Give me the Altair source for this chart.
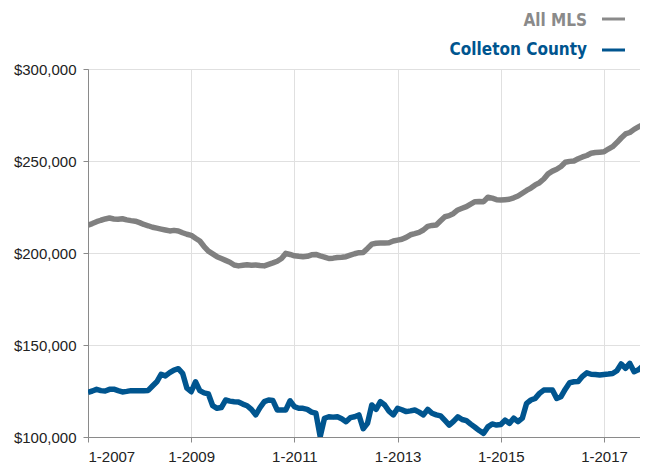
import altair as alt
import pandas as pd

# monthly, Jan 2007 .. Dec 2017 (values in $1,000)
all_mls = [
    215.2, 216, 217, 217.8, 218.5, 219, 218.5, 218.3, 218.6, 218, 217.6, 217.3,
    216.5, 215.5, 214.8, 214, 213.5, 213, 212.5, 212, 212.3, 212, 211, 210.2,
    209.6, 208, 206.5, 203.5, 201, 199.5, 198, 197, 196, 195, 193.5, 193,
    193.3, 193.6, 193.4, 193.5, 193.2, 193, 193.8, 194.6, 195.5, 197, 199.8, 199.2,
    198.5, 198.2, 198, 198.2, 199, 199.2, 198.4, 197.8, 197, 197.2, 197.6, 197.7,
    198, 198.8, 199.6, 200.2, 200.3, 202.5, 204.8, 205.3, 205.4, 205.5, 205.6, 206.5,
    207, 207.5, 208.5, 209.9, 210.5, 211.2, 212.5, 214.5, 215, 215.2, 217.5, 219.7,
    220.3, 221.5, 223.4, 224.3, 225.2, 226.6, 227.9, 228, 227.9, 230.3, 229.8, 229,
    228.8, 229, 229.2, 230, 231, 232.5, 234, 235.3, 237, 238.2, 240.2, 243,
    244.5, 245.5, 247, 249.3, 249.8, 250, 251.2, 252.2, 253, 254.2, 254.6, 254.8,
    255, 256.5, 257.8, 260, 262.5, 264.7, 265.5, 267.2, 268.5, 269.8, 270.5, 271.5,
]
colleton = [
    124.3, 125, 125.9, 125.2, 125, 125.9, 126, 125.2, 124.5, 124.8, 125.2, 125.2,
    125.2, 125.2, 125.3, 127.7, 130, 134.1, 133.2, 135, 136.4, 137.1, 134.6, 126.5,
    124.6, 130, 125.2, 124, 123.4, 117, 115.6, 116, 120.1, 119.5, 119.2, 119,
    117.9, 117, 115, 112, 116, 119.2, 120.1, 119.8, 114.7, 114.7, 114.7, 119.7,
    116.5, 115.6, 115.6, 115, 113.5, 112.9, 100.2, 110.2, 111, 110.8, 111, 109.9,
    108.3, 110.5, 111, 112, 104.5, 107.4, 117.4, 115, 119.2, 117.4, 114, 112,
    115.6, 114.8, 113.8, 114.2, 114.7, 113.5, 112, 115, 112.9, 112, 111.5, 109,
    106.5, 108.5, 111, 109.5, 108.9, 107, 105.3, 103.5, 102, 105.5, 107.1, 106.5,
    106.8, 109.2, 107.4, 110.2, 108.3, 110.2, 118.3, 120.1, 121, 123.7, 125.5, 125.5,
    125.5, 121, 121.9, 126, 129.5, 130, 130.2, 133, 134.9, 134.1, 134, 133.7,
    134, 134.2, 134.5, 136, 139.7, 137.3, 140, 135.5, 136.5, 138.5, 140.4, 141,
]
series_names = ["All MLS", "Colleton County"]
series_colors = ["#808080", "#00558f"]
tick_months = [0, 24, 48, 72, 96, 120]
y_ticks = [100000, 150000, 200000, 250000, 300000]

n = len(all_mls)
df = pd.DataFrame({
    "m": list(range(n)) * 2,
    "v": [v * 1000 for v in all_mls + colleton],
    "s": [series_names[0]] * n + [series_names[1]] * n,
})

W, H = 552, 368
x_end = W / 4.3  # visible months (the plot is cut at the page edge)

lines = alt.Chart(df).mark_line(strokeWidth=5.5, strokeJoin="round", clip=True).encode(
    x=alt.X("m:Q",
            scale=alt.Scale(domain=[0, x_end], nice=False, zero=False),
            axis=alt.Axis(values=tick_months, title=None,
                          labelExpr="'1-' + (2007 + datum.value / 12)",
                          tickSize=5, labelPadding=7)),
    y=alt.Y("v:Q",
            scale=alt.Scale(domain=[100000, 300000], nice=False, zero=False),
            axis=alt.Axis(values=y_ticks, format="$,.0f", title=None,
                          tickSize=5, labelPadding=7)),
    color=alt.Color("s:N", scale=alt.Scale(domain=series_names, range=series_colors),
                    legend=None),
    order=alt.Order("s:N"),
)

leg_font = dict(font="'Liberation Sans Narrow', 'DejaVu Sans Condensed', 'Liberation Sans'",
                fontWeight="bold", fontSize=17,
                align="right", baseline="alphabetic")
leg_df = pd.DataFrame({"s": series_names})

t1 = alt.Chart(leg_df).transform_filter(alt.datum.s == series_names[0]).mark_text(
    color="#8a8a8a", **leg_font).encode(
    x=alt.value(499), y=alt.value(-43), text="s:N")
t2 = alt.Chart(leg_df).transform_filter(alt.datum.s == series_names[1]).mark_text(
    color=series_colors[1], **leg_font).encode(
    x=alt.value(499), y=alt.value(-14), text="s:N")
r1 = alt.Chart(leg_df).transform_filter(alt.datum.s == series_names[0]).mark_rule(
    color="#8a8a8a", strokeWidth=3).encode(
    x=alt.value(514), x2=alt.value(537), y=alt.value(-50))
r2 = alt.Chart(leg_df).transform_filter(alt.datum.s == series_names[1]).mark_rule(
    color=series_colors[1], strokeWidth=3).encode(
    x=alt.value(514), x2=alt.value(537), y=alt.value(-19))

chart = alt.layer(lines, t1, t2, r1, r2).properties(
    width=W, height=H,
    autosize=alt.AutoSizeParams(type="none"),
    padding={"left": 80, "top": 61, "right": 0, "bottom": 29},
).configure_view(stroke="#9a9a9a", strokeWidth=1).configure_axis(
    gridColor="#e0e0e0", gridWidth=1,
    domainColor="#8a8a8a", tickColor="#8a8a8a",
    labelFont="Liberation Sans", labelFontSize=15, labelColor="#222222",
)

chart.save("out.html", embed_options={"renderer": "svg", "actions": False})
